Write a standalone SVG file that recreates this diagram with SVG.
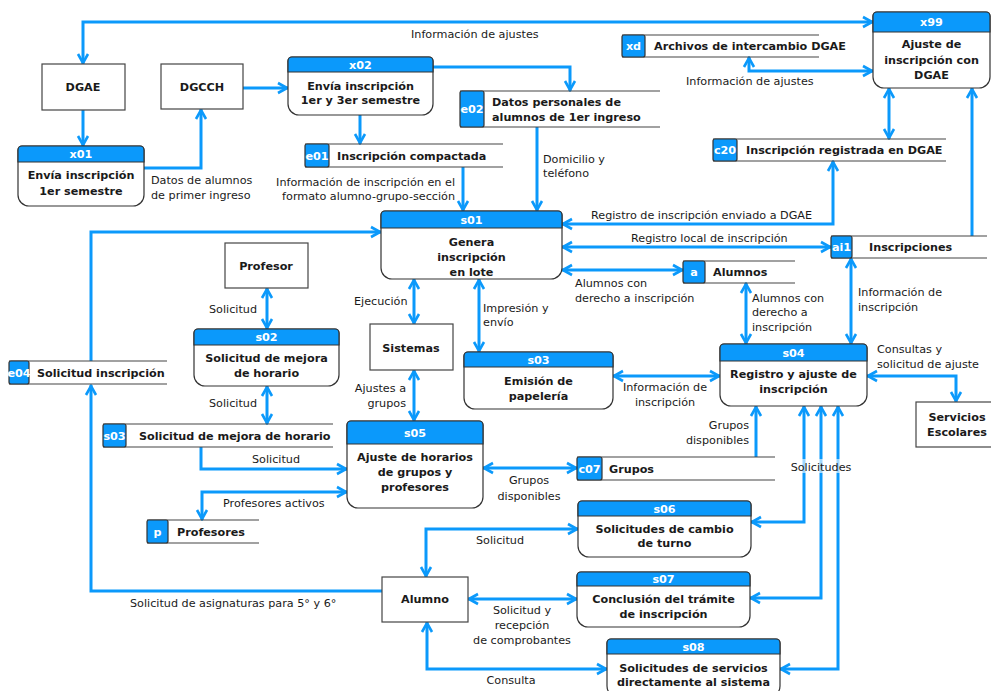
<svg xmlns="http://www.w3.org/2000/svg" width="991" height="691" viewBox="0 0 991 691">
  <defs>
    <style>
      .ln{fill:none;stroke:#0b99fb;stroke-width:3}
      .bi{marker-start:url(#ah);marker-end:url(#ah)}
      .to{marker-end:url(#ah)}
      text{font-family:"DejaVu Sans",Verdana,sans-serif;font-size:11.2px;fill:#1a1a1a}
      .b{font-weight:bold}
      .w{fill:#fff;font-weight:bold}
      .c{text-anchor:middle}
      .e{text-anchor:end}
      .box{fill:#fff;stroke:#333;stroke-width:1.2}
      .hd{fill:#0b99fb;stroke:#333;stroke-width:1.2}
      .ent{fill:#fff;stroke:#444;stroke-width:1.2}
      .ds{stroke:#444;stroke-width:1.2}
      .tag{fill:#0b99fb;stroke:#333;stroke-width:1.2}
    </style>
    <marker id="ah" viewBox="0 0 14 14" refX="13" refY="7" markerWidth="14" markerHeight="14" orient="auto-start-reverse" markerUnits="userSpaceOnUse">
      <path d="M3,2 L12,7 L3,12" fill="none" stroke="#0b99fb" stroke-width="2.6"/>
    </marker>
  </defs>

  <!-- connectors -->
  <g id="connectors">
    <path class="ln bi" d="M873,22 H83 V64"/>
    <path class="ln to" d="M83,110 V146"/>
    <path class="ln to" d="M144,168 H201 V109"/>
    <path class="ln to" d="M243,88 H288"/>
    <path class="ln to" d="M433,67 H570 V91"/>
    <path class="ln to" d="M360,115 V144"/>
    <path class="ln to" d="M463,167 V211"/>
    <path class="ln to" d="M537,127 V211"/>
    <path class="ln to" d="M91,361 V232 H381"/>
    <path class="ln to" d="M382,591 H91 V385"/>
    <path class="ln bi" d="M267,288 V329"/>
    <path class="ln bi" d="M267,386 V424"/>
    <path class="ln to" d="M201,447 V469 H347"/>
    <path class="ln bi" d="M347,492 H202 V520"/>
    <path class="ln bi" d="M414,279 V324"/>
    <path class="ln bi" d="M414,370 V421"/>
    <path class="ln bi" d="M479,279 V352"/>
    <path class="ln bi" d="M720,376 H613"/>
    <path class="ln bi" d="M562,247 H831"/>
    <path class="ln bi" d="M833,161 V224 H562"/>
    <path class="ln bi" d="M562,270 H683"/>
    <path class="ln bi" d="M746,283 V344"/>
    <path class="ln bi" d="M851,258 V344"/>
    <path class="ln to" d="M972,236 V88"/>
    <path class="ln bi" d="M749,57 V71 H873"/>
    <path class="ln bi" d="M889,88 V139"/>
    <path class="ln bi" d="M867,376 H956 V402"/>
    <path class="ln to" d="M756,457 V406"/>
    <path class="ln bi" d="M483,468 H577"/>
    <path class="ln bi" d="M804,406 V522 H751"/>
    <path class="ln bi" d="M821,406 V598 H750"/>
    <path class="ln bi" d="M838,406 V669 H780"/>
    <path class="ln bi" d="M426,577 V529 H578"/>
    <path class="ln bi" d="M468,599 H577"/>
    <path class="ln bi" d="M427,622 V669 H607"/>

    <!-- flow labels -->
    <text x="411" y="38">Información de ajustes</text>
    <text x="151" y="184">Datos de alumnos</text>
    <text x="151" y="199">de primer ingreso</text>
    <text class="e" x="455" y="186">Información de inscripción en el</text>
    <text class="e" x="455" y="200">formato alumno-grupo-sección</text>
    <text x="543" y="163">Domicilio y</text>
    <text x="543" y="177">teléfono</text>
    <text x="686" y="85">Información de ajustes</text>
    <text x="591" y="219">Registro de inscripción enviado a DGAE</text>
    <text x="631" y="242">Registro local de inscripción</text>
    <text x="575" y="287">Alumnos con</text>
    <text x="575" y="302">derecho a inscripción</text>
    <text x="752" y="302">Alumnos con</text>
    <text x="752" y="316">derecho a</text>
    <text x="752" y="331">inscripción</text>
    <text x="858" y="296">Información de</text>
    <text x="858" y="311">inscripción</text>
    <text x="877" y="353">Consultas y</text>
    <text x="877" y="368">solicitud de ajuste</text>
    <text class="c" x="665" y="391">Información de</text>
    <text class="c" x="665" y="406">inscripción</text>
    <text class="e" x="749" y="429">Grupos</text>
    <text class="e" x="749" y="444">disponibles</text>
    <rect x="791" y="459" width="61" height="14" fill="#fff" opacity="0.6"/>
    <text class="c" x="821" y="471">Solicitudes</text>
    <text class="c" x="529" y="484">Grupos</text>
    <text class="c" x="529" y="500">disponibles</text>
    <text class="c" x="500" y="544">Solicitud</text>
    <text class="c" x="522" y="614">Solicitud y</text>
    <text class="c" x="522" y="629">recepción</text>
    <text class="c" x="522" y="644">de comprobantes</text>
    <text class="c" x="511" y="684">Consulta</text>
    <text x="130" y="607">Solicitud de asignaturas para 5° y 6°</text>
    <text x="223" y="507">Profesores activos</text>
    <text x="252" y="463">Solicitud</text>
    <text x="209" y="313">Solicitud</text>
    <text x="209" y="407">Solicitud</text>
    <text x="354" y="305">Ejecución</text>
    <text class="e" x="406" y="392">Ajustes a</text>
    <text class="e" x="406" y="407">grupos</text>
    <text x="483" y="312">Impresión y</text>
    <text x="483" y="326">envío</text>
  </g>

  <!-- external entities -->
  <g id="DGAE">
    <rect class="ent" x="42" y="64" width="83" height="46"/>
    <text class="b c" x="83" y="91">DGAE</text>
  </g>
  <g id="DGCCH">
    <rect class="ent" x="161" y="64" width="82" height="45"/>
    <text class="b c" x="202" y="91">DGCCH</text>
  </g>
  <g id="Profesor">
    <rect class="ent" x="225" y="243" width="83" height="45"/>
    <text class="b c" x="266" y="270">Profesor</text>
  </g>
  <g id="Sistemas">
    <rect class="ent" x="370" y="324" width="83" height="46"/>
    <text class="b c" x="411" y="352">Sistemas</text>
  </g>
  <g id="Alumno">
    <rect class="ent" x="382" y="577" width="86" height="45"/>
    <text class="b c" x="425" y="603">Alumno</text>
  </g>
  <g id="ServiciosEscolares">
    <rect class="ent" x="916" y="402" width="82" height="45"/>
    <text class="b c" x="957" y="421">Servicios</text>
    <text class="b c" x="957" y="436">Escolares</text>
  </g>

  <!-- processes -->
  <g id="x01">
    <path class="box" d="M22,146 H140 A4,4 0 0 1 144,150 V195 A11,11 0 0 1 133,206 H29 A11,11 0 0 1 18,195 V150 A4,4 0 0 1 22,146 Z"/>
    <path class="hd" d="M22,146 H140 A4,4 0 0 1 144,150 V162 H18 V150 A4,4 0 0 1 22,146 Z"/>
    <text class="w c" x="81" y="158">x01</text>
    <text class="b c" x="81" y="179">Envía inscripción</text>
    <text class="b c" x="81" y="195">1er semestre</text>
  </g>
  <g id="x02">
    <path class="box" d="M292,57 H429 A4,4 0 0 1 433,61 V104 A11,11 0 0 1 422,115 H299 A11,11 0 0 1 288,104 V61 A4,4 0 0 1 292,57 Z"/>
    <path class="hd" d="M292,57 H429 A4,4 0 0 1 433,61 V72 H288 V61 A4,4 0 0 1 292,57 Z"/>
    <text class="w c" x="360.5" y="69">x02</text>
    <text class="b c" x="360.5" y="90">Envía inscripción</text>
    <text class="b c" x="360.5" y="104">1er y 3er semestre</text>
  </g>
  <g id="x99">
    <path class="box" d="M877,12 H986 A4,4 0 0 1 990,16 V77 A11,11 0 0 1 979,88 H884 A11,11 0 0 1 873,77 V16 A4,4 0 0 1 877,12 Z"/>
    <path class="hd" d="M877,12 H986 A4,4 0 0 1 990,16 V32 H873 V16 A4,4 0 0 1 877,12 Z"/>
    <text class="w c" x="931.5" y="26">x99</text>
    <text class="b c" x="931.5" y="48">Ajuste de</text>
    <text class="b c" x="931.5" y="64">inscripción con</text>
    <text class="b c" x="931.5" y="79">DGAE</text>
  </g>
  <g id="s01">
    <path class="box" d="M385,211 H558 A4,4 0 0 1 562,215 V268 A11,11 0 0 1 551,279 H392 A11,11 0 0 1 381,268 V215 A4,4 0 0 1 385,211 Z"/>
    <path class="hd" d="M385,211 H558 A4,4 0 0 1 562,215 V228 H381 V215 A4,4 0 0 1 385,211 Z"/>
    <text class="w c" x="471.5" y="224">s01</text>
    <text class="b c" x="471.5" y="246">Genera</text>
    <text class="b c" x="471.5" y="261">inscripción</text>
    <text class="b c" x="471.5" y="276">en lote</text>
  </g>
  <g id="s02">
    <path class="box" d="M198,329 H335 A4,4 0 0 1 339,333 V375 A11,11 0 0 1 328,386 H205 A11,11 0 0 1 194,375 V333 A4,4 0 0 1 198,329 Z"/>
    <path class="hd" d="M198,329 H335 A4,4 0 0 1 339,333 V345 H194 V333 A4,4 0 0 1 198,329 Z"/>
    <text class="w c" x="266.5" y="341">s02</text>
    <text class="b c" x="266.5" y="362">Solicitud de mejora</text>
    <text class="b c" x="266.5" y="377">de horario</text>
  </g>
  <g id="s03">
    <path class="box" d="M468,352 H609 A4,4 0 0 1 613,356 V398 A11,11 0 0 1 602,409 H475 A11,11 0 0 1 464,398 V356 A4,4 0 0 1 468,352 Z"/>
    <path class="hd" d="M468,352 H609 A4,4 0 0 1 613,356 V367 H464 V356 A4,4 0 0 1 468,352 Z"/>
    <text class="w c" x="538.5" y="364">s03</text>
    <text class="b c" x="538.5" y="385">Emisión de</text>
    <text class="b c" x="538.5" y="400">papelería</text>
  </g>
  <g id="s04">
    <path class="box" d="M724,344 H863 A4,4 0 0 1 867,348 V395 A11,11 0 0 1 856,406 H731 A11,11 0 0 1 720,395 V348 A4,4 0 0 1 724,344 Z"/>
    <path class="hd" d="M724,344 H863 A4,4 0 0 1 867,348 V361 H720 V348 A4,4 0 0 1 724,344 Z"/>
    <text class="w c" x="793.5" y="357">s04</text>
    <text class="b c" x="793.5" y="378">Registro y ajuste de</text>
    <text class="b c" x="793.5" y="393">inscripción</text>
  </g>
  <g id="s05">
    <path class="box" d="M351,421 H479 A4,4 0 0 1 483,425 V497 A11,11 0 0 1 472,508 H358 A11,11 0 0 1 347,497 V425 A4,4 0 0 1 351,421 Z"/>
    <path class="hd" d="M351,421 H479 A4,4 0 0 1 483,425 V444 H347 V425 A4,4 0 0 1 351,421 Z"/>
    <text class="w c" x="415" y="437">s05</text>
    <text class="b c" x="415" y="461">Ajuste de horarios</text>
    <text class="b c" x="415" y="476">de grupos y</text>
    <text class="b c" x="415" y="491">profesores</text>
  </g>
  <g id="s06">
    <path class="box" d="M582,501 H747 A4,4 0 0 1 751,505 V546 A11,11 0 0 1 740,557 H589 A11,11 0 0 1 578,546 V505 A4,4 0 0 1 582,501 Z"/>
    <path class="hd" d="M582,501 H747 A4,4 0 0 1 751,505 V516 H578 V505 A4,4 0 0 1 582,501 Z"/>
    <text class="w c" x="664.5" y="513">s06</text>
    <text class="b c" x="664.5" y="533">Solicitudes de cambio</text>
    <text class="b c" x="664.5" y="547">de turno</text>
  </g>
  <g id="s07">
    <path class="box" d="M581,572 H746 A4,4 0 0 1 750,576 V616 A11,11 0 0 1 739,627 H588 A11,11 0 0 1 577,616 V576 A4,4 0 0 1 581,572 Z"/>
    <path class="hd" d="M581,572 H746 A4,4 0 0 1 750,576 V586 H577 V576 A4,4 0 0 1 581,572 Z"/>
    <text class="w c" x="663.5" y="583">s07</text>
    <text class="b c" x="663.5" y="603">Conclusión del trámite</text>
    <text class="b c" x="663.5" y="618">de inscripción</text>
  </g>
  <g id="s08">
    <path class="box" d="M611,639 H776 A4,4 0 0 1 780,643 V686 A11,11 0 0 1 769,697 H618 A11,11 0 0 1 607,686 V643 A4,4 0 0 1 611,639 Z"/>
    <path class="hd" d="M611,639 H776 A4,4 0 0 1 780,643 V654 H607 V643 A4,4 0 0 1 611,639 Z"/>
    <text class="w c" x="693.5" y="651">s08</text>
    <text class="b c" x="693.5" y="672">Solicitudes de servicios</text>
    <text class="b c" x="693.5" y="686">directamente al sistema</text>
  </g>

  <!-- data stores -->
  <g id="e02">
    <path class="ds" d="M460,91 H660 M460,127 H660"/>
    <rect class="tag" x="460" y="91" width="24" height="36" rx="2"/>
    <text class="w c" x="472" y="113">e02</text>
    <text class="b" x="492" y="106">Datos personales de</text>
    <text class="b" x="492" y="121">alumnos de 1er ingreso</text>
  </g>
  <g id="e01">
    <path class="ds" d="M305,144 H503 M305,167 H503"/>
    <rect class="tag" x="305" y="144" width="24" height="23" rx="2"/>
    <text class="w c" x="317" y="160">e01</text>
    <text class="b" x="337" y="160">Inscripción compactada</text>
  </g>
  <g id="xd">
    <path class="ds" d="M622,35 H819 M622,57 H819"/>
    <rect class="tag" x="622" y="35" width="23" height="22" rx="2"/>
    <text class="w c" x="633.5" y="50">xd</text>
    <text class="b" x="654" y="50">Archivos de intercambio DGAE</text>
  </g>
  <g id="c20">
    <path class="ds" d="M713,139 H946 M713,161 H946"/>
    <rect class="tag" x="713" y="139" width="24" height="22" rx="2"/>
    <text class="w c" x="725" y="154">c20</text>
    <text class="b" x="746" y="154">Inscripción registrada en DGAE</text>
  </g>
  <g id="e04">
    <path class="ds" d="M9,361 H167 M9,384 H167"/>
    <rect class="tag" x="9" y="361" width="20" height="23" rx="2"/>
    <text class="w c" x="19" y="377">e04</text>
    <text class="b" x="37" y="377">Solicitud inscripción</text>
  </g>
  <g id="s03-store">
    <path class="ds" d="M103,424 H333 M103,447 H333"/>
    <rect class="tag" x="103" y="424" width="23" height="23" rx="2"/>
    <text class="w c" x="114.5" y="440">s03</text>
    <text class="b" x="139" y="440">Solicitud de mejora de horario</text>
  </g>
  <g id="a">
    <path class="ds" d="M683,261 H795 M683,283 H795"/>
    <rect class="tag" x="683" y="261" width="22" height="22" rx="2"/>
    <text class="w c" x="694" y="276">a</text>
    <text class="b" x="713" y="276">Alumnos</text>
  </g>
  <g id="ai1">
    <path class="ds" d="M831,236 H987 M831,258 H987"/>
    <rect class="tag" x="831" y="236" width="21" height="22" rx="2"/>
    <text class="w c" x="841.5" y="251">ai1</text>
    <text class="b" x="869" y="251">Inscripciones</text>
  </g>
  <g id="c07">
    <path class="ds" d="M577,457 H775 M577,480 H775"/>
    <rect class="tag" x="577" y="457" width="25" height="23" rx="2"/>
    <text class="w c" x="589.5" y="473">c07</text>
    <text class="b" x="609" y="473">Grupos</text>
  </g>
  <g id="p">
    <path class="ds" d="M147,520 H259 M147,543 H259"/>
    <rect class="tag" x="147" y="520" width="21" height="23" rx="2"/>
    <text class="w c" x="157.5" y="536">p</text>
    <text class="b" x="177" y="536">Profesores</text>
  </g>
</svg>
